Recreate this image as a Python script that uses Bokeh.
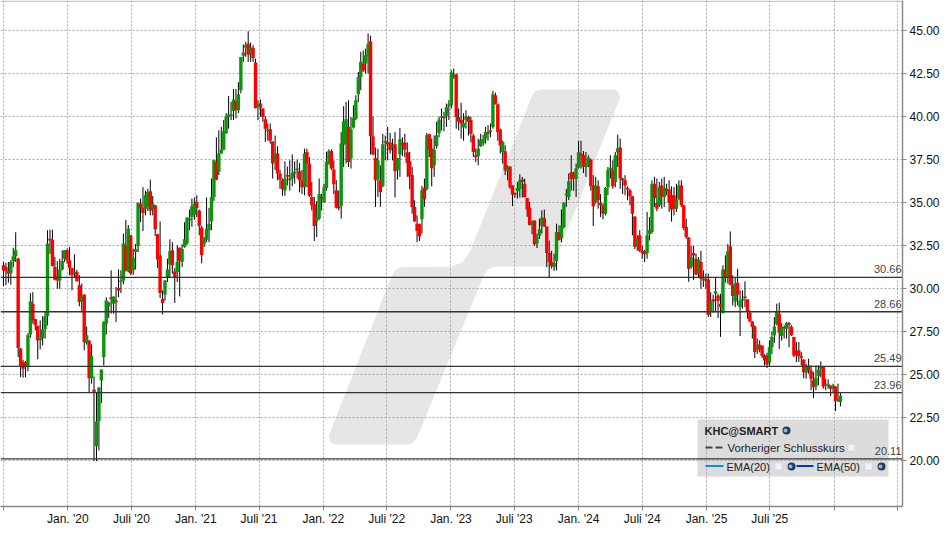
import pandas as pd
from bokeh.plotting import figure
from bokeh.models import Range1d, FixedTicker, Span, ColumnDataSource
from bokeh.core.properties import value
from bokeh.embed import file_html
from bokeh.resources import INLINE

# ---- weekly candles, KHC (first week: 2019-07-01)
open_ = [
31.36,31.26,31.03,30.9,31.59,31.88,31.76,26.53,25.74,25.74,
25.45,27.34,29.13,28.24,27.85,27.0,27.13,27.66,28.41,32.9,
32.85,31.26,30.64,30.48,31.12,31.74,32.23,31.65,31.2,30.9,
30.97,30.2,29.22,29.67,26.84,26.99,24.8,24.15,20.85,22.3,
24.67,26.03,27.97,28.98,29.5,29.13,29.32,30.04,30.39,30.48,
32.52,31.0,33.1,31.07,32.13,32.46,34.94,34.69,34.65,34.75,
35.66,34.65,34.85,33.16,31.94,29.42,29.67,30.68,31.4,32.23,
31.0,30.97,32.38,31.57,32.42,32.62,33.97,34.17,34.3,35.04,
34.55,33.55,32.58,32.85,33.4,33.9,35.33,37.36,36.8,37.85,
38.08,39.05,39.98,40.02,40.33,40.9,40.37,41.53,43.53,44.0,
44.24,43.66,44.0,43.15,40.6,40.76,40.47,39.85,39.17,39.26,
38.56,37.4,37.85,36.7,36.3,35.7,36.6,36.3,36.4,36.7,
36.88,36.82,36.3,35.9,37.95,37.27,35.33,34.9,33.93,34.08,
35.33,35.04,35.85,37.3,38.0,36.93,35.72,34.79,34.8,38.37,
38.43,39.4,37.56,39.36,39.88,41.3,42.3,43.08,43.08,43.5,
44.38,38.86,37.6,36.34,36.3,35.95,38.47,38.49,38.49,38.2,
38.4,36.88,37.8,38.47,38.49,37.93,37.4,36.6,34.75,33.78,
33.74,34.03,35.87,35.8,38.97,38.14,37.17,38.28,39.05,39.94,
40.0,40.02,40.6,40.66,42.27,42.46,39.98,39.8,39.36,39.8,
39.98,39.8,38.9,37.75,37.7,38.27,38.45,38.72,39.1,39.1,
39.4,41.24,40.72,39.25,37.95,37.98,36.82,37.1,35.99,35.56,
35.66,35.8,36.34,36.1,35.27,34.7,33.7,33.97,32.62,33.06,
33.64,34.1,33.62,32.07,31.55,31.26,31.6,33.3,32.95,33.58,
35.43,35.33,36.76,36.7,36.38,37.03,37.85,37.75,37.07,37.15,
37.5,36.0,35.04,35.95,35.0,34.85,34.36,35.9,36.9,36.88,
36.2,37.93,38.2,36.4,36.3,35.85,35.72,35.37,34.2,32.42,
33.1,32.2,32.17,32.07,33.16,33.3,36.1,34.98,34.85,35.99,
35.33,35.8,35.76,35.43,35.43,34.65,35.23,36.0,34.85,33.58,
32.97,31.26,32.07,31.74,30.87,31.55,30.48,30.58,30.54,28.64,
29.38,29.7,29.6,29.13,28.6,31.12,30.68,32.46,30.23,29.26,
30.35,28.93,29.32,29.55,29.38,28.6,28.1,27.81,26.47,26.74,
26.7,26.12,26.12,25.7,26.6,27.29,27.93,28.55,27.25,27.77,
27.67,28.0,27.79,27.2,26.38,26.42,26.07,25.89,25.12,25.54,
25.25,24.68,24.32,24.92,25.35,25.45,24.34,24.38,24.38,24.19,
24.32,23.47,23.41,
]
high = [
31.55,31.5,31.55,31.65,32.38,33.28,31.8,26.55,25.87,25.8,
27.42,29.74,29.8,28.25,27.85,28.16,28.4,28.64,33.4,33.43,
33.43,31.84,31.6,31.74,32.23,32.25,32.33,32.42,31.2,32.0,
31.1,30.78,30.3,29.67,27.8,27.0,26.76,24.9,24.0,24.3,
25.3,28.1,29.5,29.25,31.07,29.55,30.1,31.12,31.07,33.2,
34.0,33.7,33.1,32.33,32.6,35.0,35.23,35.9,35.7,35.8,
36.34,35.4,34.85,33.2,33.9,29.9,30.5,31.74,32.87,32.7,
31.2,32.52,32.4,32.58,33.87,34.13,34.6,35.23,35.3,35.43,
34.6,33.65,33.0,35.3,34.7,36.4,37.5,38.8,39.2,39.4,
39.8,40.2,41.2,40.85,41.6,41.6,42.0,43.47,44.2,44.35,
44.96,44.3,44.15,43.37,40.95,41.0,40.47,40.0,39.6,39.6,
38.56,38.9,38.28,36.9,36.4,37.4,37.1,37.46,37.8,37.4,
37.5,37.3,36.9,38.14,38.14,37.65,36.2,35.33,35.1,36.4,
35.52,36.1,37.95,38.1,38.1,37.46,36.3,35.7,39.1,40.6,
40.85,40.95,39.98,40.66,41.24,42.6,43.76,43.85,43.95,44.83,
44.7,40.0,38.2,38.14,37.17,39.0,38.9,39.4,39.05,38.72,
39.1,37.6,39.34,38.8,39.0,38.5,37.95,37.07,35.13,34.26,
33.78,35.97,36.4,39.05,39.0,38.72,38.9,39.7,40.0,40.47,
40.27,40.76,40.95,42.7,42.8,42.5,40.47,40.8,40.2,40.37,
40.05,40.0,39.0,38.14,38.72,39.0,38.95,39.4,39.5,39.6,
41.5,41.4,40.76,39.3,38.6,38.33,37.17,37.1,36.0,35.6,
36.2,36.65,36.5,36.4,35.27,35.04,33.97,33.97,33.2,34.07,
34.55,34.6,33.62,32.8,32.2,32.03,33.78,33.68,34.6,35.04,
35.8,36.7,37.75,36.8,37.27,38.6,38.6,38.0,37.95,37.75,
37.56,36.6,36.5,36.3,35.5,34.95,35.9,37.07,37.75,37.46,
37.95,38.95,38.72,36.45,36.6,35.95,35.8,35.4,34.2,33.1,
33.4,32.5,32.25,34.46,34.17,36.3,36.5,36.4,36.2,36.4,
36.5,36.1,36.3,35.95,35.9,36.1,36.3,36.3,34.85,34.07,
33.0,32.5,32.5,32.03,31.84,32.2,31.07,30.87,30.87,29.8,
29.65,30.68,29.7,29.7,31.36,31.94,32.6,33.33,30.78,30.68,
31.16,29.9,29.9,30.43,29.38,28.74,28.1,27.87,27.1,27.0,
26.7,26.2,26.28,27.0,27.52,28.35,29.13,29.19,28.0,27.87,
28.06,28.06,27.87,27.2,26.9,26.9,26.32,25.89,25.64,25.93,
25.54,25.15,25.54,25.54,25.78,25.45,24.77,24.73,24.38,24.48,
24.32,24.48,23.98,
]
low = [
30.15,30.2,30.35,30.23,31.26,31.55,26.03,24.86,24.83,24.85,
25.2,27.15,27.97,27.58,25.9,26.47,26.7,27.1,27.87,32.03,
31.3,30.48,30.0,30.0,31.06,31.55,31.45,30.78,29.9,30.68,
30.42,28.97,28.64,26.42,26.75,23.93,24.48,20.0,19.98,20.6,
23.35,25.54,27.33,28.3,28.55,28.55,28.06,29.5,29.75,30.25,
31.0,30.95,30.8,30.8,31.12,32.13,33.87,33.35,34.26,34.5,
34.26,34.26,33.06,31.2,29.46,28.5,29.3,30.39,30.68,30.87,
29.17,30.39,29.55,31.26,32.38,32.52,33.4,33.6,34.0,34.17,
33.1,31.48,32.42,32.7,32.7,33.4,35.1,36.3,36.6,37.85,
38.05,39.0,39.3,39.8,39.8,39.9,40.2,41.35,43.18,43.47,
43.18,43.18,43.18,40.47,39.8,40.0,39.7,38.53,38.6,38.43,
36.4,36.9,36.3,35.8,35.4,35.4,36.0,35.7,35.95,36.1,
36.4,35.6,35.5,35.43,35.9,35.33,34.55,32.77,33.0,34.0,
34.55,34.98,35.7,37.2,36.9,35.5,34.66,34.55,34.07,37.07,
37.27,37.07,36.98,39.3,39.8,40.85,41.53,42.6,42.5,42.5,
37.8,37.75,34.75,35.33,34.75,35.9,37.46,37.46,37.85,37.46,
35.3,36.34,36.5,37.7,37.65,36.5,35.78,34.36,33.88,32.7,
32.77,33.2,34.75,35.7,37.65,35.95,36.5,38.14,38.8,39.2,
39.15,39.4,39.8,40.47,42.2,39.3,39.2,38.72,38.6,39.3,
38.9,38.5,37.65,37.35,37.17,38.24,38.3,38.43,38.6,38.8,
39.3,40.7,38.6,37.85,37.27,36.6,36.3,35.8,34.8,35.3,
35.23,35.3,35.3,35.3,34.17,33.68,33.16,32.5,32.36,32.9,
33.2,33.6,31.26,30.68,31.16,31.03,31.07,32.8,32.7,33.5,
34.75,35.15,35.7,35.68,35.33,36.98,36.98,36.72,36.5,37.07,
35.7,33.64,34.95,34.65,34.17,34.03,34.26,35.43,36.4,35.8,
35.9,37.07,35.8,35.5,35.43,35.14,34.85,33.1,32.3,32.2,
32.13,31.74,31.55,31.74,32.8,33.2,34.75,34.5,34.75,34.65,
34.75,35.43,34.46,33.9,34.26,34.46,35.14,34.75,33.4,32.9,
30.4,31.16,30.5,30.78,30.68,30.0,30.1,30.0,28.35,28.35,
28.6,28.64,28.3,27.2,28.55,30.35,30.3,30.2,29.03,28.93,
29.03,27.25,28.84,28.93,28.25,28.06,27.1,25.97,26.2,26.3,
25.97,25.54,25.39,25.45,26.2,26.86,27.87,26.5,26.98,27.1,
27.1,26.6,27.25,26.03,25.74,25.74,25.54,24.8,24.77,25.06,
24.1,23.64,24.1,24.4,24.85,24.19,24.1,24.19,23.76,23.98,
22.89,23.41,23.16,
]
close = [
31.07,31.03,30.87,31.55,31.88,32.23,26.55,25.45,25.35,25.45,
27.29,29.26,28.16,27.87,27.0,27.13,27.64,28.4,32.62,32.8,
31.3,30.52,30.48,31.12,31.61,32.23,31.65,31.2,30.78,31.0,
30.43,29.22,29.55,26.9,27.29,24.8,26.07,24.0,22.29,24.24,
25.3,28.08,29.32,29.2,29.38,29.55,29.22,29.9,30.48,32.62,
31.07,33.5,30.9,31.8,32.3,35.0,34.69,34.4,35.43,35.62,
34.55,34.94,33.45,31.7,29.75,29.17,30.48,31.12,32.17,31.36,
30.64,31.55,31.6,32.3,32.87,34.13,34.1,34.79,34.94,34.69,
33.65,31.96,32.9,33.49,33.78,35.33,37.46,36.34,37.85,38.08,
39.15,40.0,40.12,40.12,41.0,40.4,41.3,43.47,43.72,44.15,
43.6,44.0,43.4,40.5,40.76,40.52,39.98,39.3,39.24,38.6,
37.27,37.85,36.7,36.34,35.8,36.4,36.5,36.4,36.73,36.8,
36.98,36.3,35.9,37.85,37.27,35.4,34.85,33.65,34.17,35.5,
35.23,35.9,37.36,38.0,36.98,36.07,34.7,34.68,38.43,39.73,
39.85,37.36,39.26,39.92,40.95,42.3,43.18,42.66,43.57,44.24,
38.86,37.8,36.3,37.46,35.62,38.4,38.58,38.39,38.04,38.33,
36.84,37.6,38.68,38.33,38.08,37.3,36.5,34.75,33.9,33.35,
33.04,35.72,35.2,38.91,38.08,37.0,38.08,38.91,39.83,40.02,
39.92,40.56,40.7,42.56,42.4,39.98,39.7,39.6,39.63,40.0,
39.7,39.0,37.95,37.65,38.14,38.66,38.7,39.1,39.0,39.2,
41.3,40.75,39.1,38.33,38.53,36.88,37.1,35.9,35.47,35.47,
35.85,36.3,36.2,35.33,34.6,33.7,33.84,32.58,33.0,33.45,
34.13,33.62,32.07,31.55,31.3,31.5,33.3,32.85,33.68,34.98,
35.52,36.24,36.38,36.38,37.0,37.93,37.7,37.07,37.27,37.62,
35.95,34.79,36.0,35.14,34.85,34.36,35.85,36.9,37.03,35.95,
37.75,38.16,36.4,36.3,36.0,35.76,35.37,34.36,32.42,32.9,
32.2,32.07,32.0,33.1,33.4,36.07,35.27,34.65,35.9,35.33,
35.85,35.68,34.98,34.6,34.65,35.18,36.0,34.85,33.53,33.0,
31.16,31.84,31.93,30.83,31.68,30.58,30.58,30.48,28.49,29.26,
29.26,29.85,29.3,28.93,31.12,30.68,32.17,30.23,29.57,30.3,
29.67,29.32,29.42,29.46,28.64,28.1,27.77,26.32,26.76,26.47,
26.09,25.83,25.6,26.6,27.2,27.81,28.64,27.44,27.77,27.7,
28.02,27.9,27.29,26.12,26.12,26.09,25.97,25.15,25.5,25.25,
24.77,24.28,24.83,25.31,25.5,24.32,24.42,24.48,24.19,24.38,
23.47,23.57,23.8,
]
levels = [30.66, 28.66, 25.49, 23.96, 20.11]
level_labels = ["30.66", "28.66", "25.49", "23.96", "20.11"]
y_ticks = [20.0, 22.5, 25.0, 27.5, 30.0, 32.5, 35.0, 37.5, 40.0, 42.5, 45.0]
x_tick_dates = ["2019-07-01", "2020-01-01", "2020-07-01", "2021-01-01", "2021-07-01", "2022-01-01", "2022-07-01",
                "2023-01-01", "2023-07-01", "2024-01-01", "2024-07-01", "2025-01-01", "2025-07-01", "2026-01-01",
                "2026-07-01"]
x_tick_labels = ["", "Jan. '20", "Juli '20", "Jan. '21", "Juli '21", "Jan. '22", "Juli '22", "Jan. '23", "Juli '23",
                 "Jan. '24", "Juli '24", "Jan. '25", "Juli '25", "", ""]

assert len(open_) == len(high) == len(low) == len(close), (len(open_), len(high), len(low), len(close))

weeks = pd.date_range("2019-07-01", periods=len(open_), freq="7D")
DAY = 86400000.0
MS = lambda d: pd.Timestamp(d).timestamp() * 1000.0
JAN20 = MS("2020-01-01")
PX_PER_DAY = 0.3496
# conversions for the decoration (watermark, legend), given in window pixels
X = lambda px: JAN20 + (px - 67.3) / PX_PER_DAY * DAY
Y = lambda py: 20 + (460.3 - py) / 17.21
FONT = value("Liberation Sans")

p = figure(frame_width=902, frame_height=506, output_backend="svg", toolbar_location=None,
           x_range=Range1d(X(0), X(902)), y_range=Range1d(Y(506), Y(0)),
           min_border_left=0, min_border_top=0, min_border_right=38, min_border_bottom=20,
           x_axis_location="below", y_axis_location="right", background_fill_color="white",
           border_fill_color="white")
p.outline_line_color = None

x_ticks = [MS(d) for d in x_tick_dates]
xa = p.xaxis[0]
xa.ticker = FixedTicker(ticks=x_ticks)
xa.major_label_overrides = {t: l for t, l in zip(x_ticks, x_tick_labels)}
ya = p.yaxis[0]
ya.ticker = FixedTicker(ticks=y_ticks)
ya.major_label_overrides = {t: f"{t:.2f}" for t in y_ticks}
for a in (xa, ya):
    a.axis_line_color = "#8a8a8a"
    a.axis_line_width = 1.5
    a.major_tick_line_color = "#8a8a8a"
    a.major_tick_out = 4
    a.major_tick_in = 0
    a.minor_tick_line_color = None
    a.major_label_text_font = "Liberation Sans"
    a.major_label_text_font_size = "12px"
    a.major_label_text_color = "#111111"
xa.major_label_standoff = 1
ya.major_label_standoff = 3

for g in (p.xgrid[0], p.ygrid[0]):
    g.grid_line_color = "#a8a8a8"
    g.grid_line_dash = "2 2"
    g.grid_line_width = 1
p.xgrid[0].ticker = FixedTicker(ticks=x_ticks)
p.ygrid[0].ticker = FixedTicker(ticks=y_ticks)

# watermark
wm = [(660, 27), (880, 27), (893, 33), (899, 50), (697, 558), (525, 558), (505, 565), (490, 585), (290, 1070),
      (278, 1087), (262, 1092), (45, 1092), (30, 1086), (25, 1065), (212, 590), (225, 568), (245, 560), (395, 558),
      (425, 545), (450, 510), (635, 45), (645, 32)]
p.patch([X(320 + a / 3) for a, b in wm], [Y(80 + b / 3) for a, b in wm], fill_color="#e6e6e6", line_color=None,
        level="image")

# legend box
p.quad(left=[X(697)], right=[X(888)], top=[Y(419)], bottom=[Y(476)], fill_color="#dcdcdc", line_color=None,
       level="image")

# top frame line
p.add_layout(Span(location=Y(0.7), dimension="width", line_color="#b0b0b0", line_width=1))

# support / resistance levels
for lv in levels:
    p.add_layout(Span(location=lv, dimension="width", line_color="#333333", line_width=1.3, level="glyph"))
p.text(x=[X(901)] * len(levels), y=levels, text=level_labels, text_font=FONT, text_font_size="11px",
       text_color="#444444", text_align="right", text_baseline="middle", y_offset=-8)

# candles
src = ColumnDataSource(dict(
    x=weeks, o=open_, h=high, l=low, c=close,
    top=[max(a, b) for a, b in zip(open_, close)],
    bot=[min(a, b) for a, b in zip(open_, close)],
    col=["#ff0000" if c < o else "#0a960a" for o, c in zip(open_, close)],
))
p.segment(x0="x", y0="h", x1="x", y1="l", source=src, line_color="black", line_width=1)
p.vbar(x="x", width=3.4 / PX_PER_DAY * DAY, top="top", bottom="bot", source=src, fill_color="col", line_color=None)

# legend contents
def legend_text(px, py, s, bold=False, size="11px"):
    p.text(x=[X(px)], y=[Y(py)], text=[s], text_font=FONT, text_font_size=size, text_color="#222222",
           text_align="left", text_baseline="middle", text_font_style="bold" if bold else "normal")

def globe(px, py):
    p.scatter([X(px)], [Y(py)], marker="circle", size=8, fill_color="#1f3d5e", line_color=None)
    p.scatter([X(px - 1)], [Y(py)], marker="circle", size=4, fill_color="#8fb6d6", line_color=None)

def box(px, py):
    p.scatter([X(px)], [Y(py)], marker="square", size=7, fill_color="#f1f1fa", line_color="#cfcfdc", line_width=0.5)

legend_text(704, 430, "KHC@SMART", bold=True)
globe(786, 430)
p.line([X(705), X(723)], [Y(447)] * 2, line_color="#444444", line_width=2, line_dash="7 3")
legend_text(727, 447, "Vorheriger Schlusskurs", size="11.4px")
box(851, 447)
p.line([X(705), X(723)], [Y(465.5)] * 2, line_color="#0a8fe6", line_width=2)
legend_text(726, 466, "EMA(20)")
box(778, 466)
globe(791, 466)
p.line([X(796), X(813)], [Y(465.5)] * 2, line_color="#0030e0", line_width=2)
legend_text(816, 466, "EMA(50)")
box(868, 466)
globe(881, 466)

open("out.html", "w").write(file_html(p, INLINE))
